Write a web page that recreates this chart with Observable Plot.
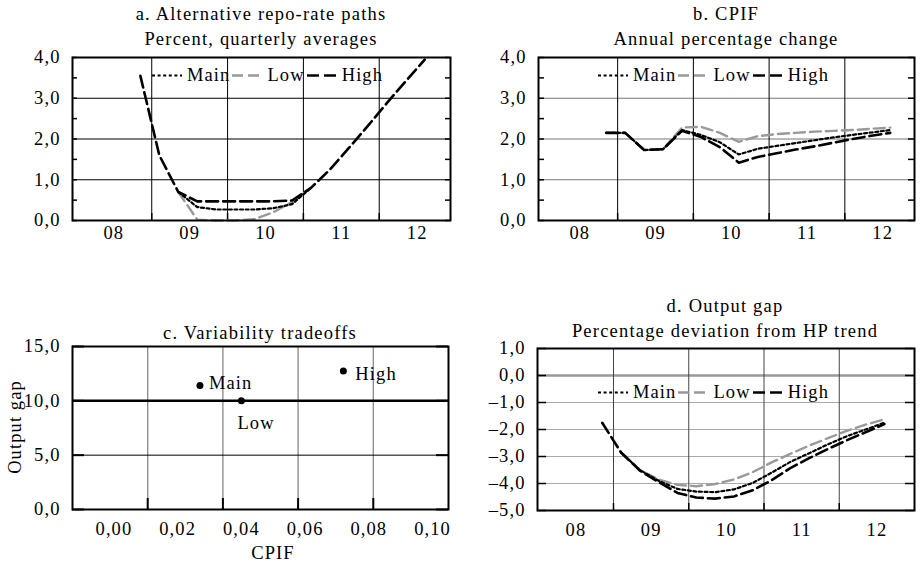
<!DOCTYPE html>
<html><head><meta charset="utf-8">
<script src="https://cdn.jsdelivr.net/npm/d3@7"></script>
<script src="https://cdn.jsdelivr.net/npm/@observablehq/plot@0.6"></script>
<style>
body{margin:0;background:#fff;}
#root{position:relative;width:922px;height:564px;font-family:"Liberation Serif",serif;color:#000;overflow:hidden;}
.title{position:absolute;text-align:center;font-size:18.5px;line-height:25px;white-space:nowrap;letter-spacing:1.2px;transform:translateX(-50%);}
.legend{position:absolute;display:flex;align-items:center;font-size:18.5px;letter-spacing:1.1px;white-space:nowrap;transform:translateY(-50%);}
.legend svg{display:block;}
.axlabel{position:absolute;font-size:18.5px;letter-spacing:1.1px;white-space:nowrap;}
</style>
</head><body><div id="root"></div>
<script>
// ---------- data ----------
const quarters = ["2008Q4","2009Q1","2009Q2","2009Q3","2009Q4","2010Q1","2010Q2","2010Q3",
                  "2010Q4","2011Q1","2011Q2","2011Q3","2011Q4","2012Q1","2012Q2","2012Q3"];
const seriesNames = ["Main","Low","High"];

// a. Alternative repo-rate paths (percent, quarterly averages)
const repoMain = [3.55,1.6,0.7,0.33,0.27,0.27,0.27,0.3,0.4,0.8,1.25,1.78,2.32,2.88,3.42,3.95];
const repoLow  = [3.55,1.6,0.7,0.02,0.0,0.0,0.03,0.2,0.45,0.8,1.25,1.78,2.32,2.88,3.42,3.95];
const repoHigh = [3.55,1.6,0.7,0.47,0.47,0.47,0.47,0.47,0.49,0.8,1.25,1.78,2.32,2.88,3.42,3.95];

// b. CPIF (annual percentage change)
const cpifMain = [2.15,2.15,1.73,1.75,2.22,2.1,1.92,1.62,1.76,1.83,1.9,1.97,2.04,2.1,2.16,2.22];
const cpifLow  = [2.15,2.15,1.73,1.75,2.28,2.3,2.15,1.93,2.07,2.12,2.15,2.18,2.2,2.22,2.25,2.28];
const cpifHigh = [2.15,2.15,1.73,1.75,2.2,2.05,1.8,1.42,1.56,1.65,1.74,1.82,1.91,2.0,2.08,2.15];

// d. Output gap (percentage deviation from HP trend)
const gapMain = [-1.75,-2.85,-3.5,-3.9,-4.2,-4.3,-4.32,-4.22,-3.98,-3.6,-3.2,-2.88,-2.55,-2.25,-2.0,-1.75];
const gapLow  = [-1.75,-2.85,-3.5,-3.85,-4.05,-4.1,-4.02,-3.85,-3.58,-3.22,-2.9,-2.6,-2.32,-2.05,-1.82,-1.62];
const gapHigh = [-1.75,-2.85,-3.52,-3.95,-4.35,-4.52,-4.56,-4.48,-4.25,-3.88,-3.43,-3.06,-2.72,-2.4,-2.1,-1.8];

// c. Variability tradeoffs
const cpifVariability = [0.027, 0.040, 0.072];
const gapVariability  = [11.4, 10.0, 12.75];

// ticks
const yearTicks = [2008, 2009, 2010, 2011, 2012];
const yearLabels = ["08","09","10","11","12"];
const yearGrid = [2009, 2010, 2011, 2012];
const ticksAB = [0,1,2,3,4];
const minorAB = [0.5,1.5,2.5,3.5];
const ticksD = [-5,-4,-3,-2,-1,0,1];
const ticksCy = [0,5,10,15];
const ticksCx = [0,0.02,0.04,0.06,0.08,0.10];

// ---------- styles ----------
const lineStyle = {
  Main: {stroke:"#000", dash:"3,2.6", width:2.2},
  Low:  {stroke:"#999", dash:"11,5", width:2.4},
  High: {stroke:"#000", dash:"12,5", width:2.6}
};
const drawOrder = ["Low","Main","High"];
const labelOffset = {Main:[9,-3], Low:[-4,22], High:[12,3]};
const FONT = {fontFamily:"Liberation Serif, serif", fontSize:"18.5px", background:"transparent", overflow:"visible", color:"#000", letterSpacing:"1.1px"};

const fmt1 = d => (d < 0 ? "–" : "") + Math.abs(d).toFixed(1).replace(".", ",");
const fmt2 = d => (d < 0 ? "–" : "") + Math.abs(d).toFixed(2).replace(".", ",");
const qTime = q => +q.slice(0,4) + (+q.slice(5) - 1) / 4 + 0.1;

const root = document.getElementById("root");
function place(el, left, top) { el.style.position = "absolute"; el.style.left = left + "px"; el.style.top = top + "px"; root.appendChild(el); }
function addDiv(cls, html, left, top) { const d = document.createElement("div"); d.className = cls; d.innerHTML = html; d.style.left = left + "px"; d.style.top = top + "px"; root.appendChild(d); return d; }

function legend(left, cy) {
  const d = document.createElement("div");
  d.className = "legend";
  d.style.left = left + "px"; d.style.top = cy + "px";
  d.innerHTML = seriesNames.map((n, i) => {
    const s = lineStyle[n];
    return `<svg width="30" height="10"><line x1="0" x2="30" y1="5" y2="5" stroke="${s.stroke}" stroke-width="${s.width}" stroke-dasharray="${s.dash}"/></svg><span style="margin-left:5px;margin-right:${i<2?2:0}px">${n}</span>`;
  }).join("");
  root.appendChild(d);
}

function timePanel(cfg) {
  const byName = {};
  seriesNames.forEach((name, i) => byName[name] = cfg.values[i]);
  const rows = [];
  seriesNames.forEach((name) => byName[name].forEach((v, j) => {
    // where a path coincides with "High" on both sides, only the High line is drawn
    let shown = v;
    if (cfg.hideCommon && name !== "High") {
      const same = k => k < 0 || k >= quarters.length || byName[name][k] === byName.High[k];
      if (same(j - 1) && same(j) && same(j + 1)) shown = NaN;
    }
    rows.push({name, t: qTime(quarters[j]), v: shown});
  }));
  const fw = cfg.width - cfg.ml - cfg.mr, fh = cfg.height - cfg.mt - cfg.mb;
  const marks = [ Plot.ruleY(cfg.yGrid, {stroke: cfg.hGrid, strokeWidth: 1}) ];
  if (cfg.zero) marks.push(Plot.ruleY([0], {stroke: "#999", strokeWidth: 2.5}));
  marks.push(
    Plot.ruleX(yearGrid, {stroke: cfg.vGrid, strokeWidth: 1}),
    Plot.ruleY(cfg.yTickMarks, {stroke: "#000", strokeWidth: 1.5, insetRight: fw - cfg.tickLen}),
    Plot.ruleY(cfg.yTickMarks, {stroke: "#000", strokeWidth: 1.5, insetLeft: fw - cfg.tickLen}),
    Plot.ruleX(yearGrid, {stroke: "#000", strokeWidth: 1.5, insetTop: fh - 7}),
    ...drawOrder.map(name => Plot.line(rows.filter(r => r.name === name), {
      x: "t", y: "v", stroke: lineStyle[name].stroke, strokeWidth: lineStyle[name].width,
      strokeDasharray: lineStyle[name].dash, curve: "linear"
    })),
    Plot.frame({stroke: "#000", strokeWidth: 2}),
    Plot.axisX({ticks: yearTicks.map(y => y + 0.5), tickFormat: d => yearLabels[yearTicks.indexOf(Math.floor(d))], tickSize: 0, tickPadding: cfg.xPad, label: null}),
    Plot.axisY({ticks: cfg.yTicks, tickFormat: fmt1, tickSize: 0, tickPadding: 12, label: null})
  );
  const svg = Plot.plot({
    width: cfg.width, height: cfg.height,
    marginLeft: cfg.ml, marginRight: cfg.mr, marginTop: cfg.mt, marginBottom: cfg.mb,
    style: FONT,
    x: {type: "linear", domain: cfg.xDomain, label: null},
    y: {domain: cfg.yDomain, label: null},
    marks
  });
  place(svg, cfg.left, cfg.top);
}

// a
timePanel({left:0, top:0, width:461, height:250, ml:72, mr:11, mt:57, mb:30, hideCommon:true,
  xDomain:[2007.955, 2012.94], yDomain:[0,4], values:[repoMain, repoLow, repoHigh],
  yGrid:[1,2,3], hGrid:"#000", vGrid:"#000", yTicks: ticksAB, yTickMarks: minorAB.concat(ticksAB), tickLen: 5, xPad: 5});
// b
timePanel({left:461, top:0, width:461, height:250, ml:77, mr:8, mt:57, mb:30, hideCommon:false,
  xDomain:[2007.955, 2012.92], yDomain:[0,4], values:[cpifMain, cpifLow, cpifHigh],
  yGrid:[1,2,3], hGrid:"#777", vGrid:"#000", yTicks: ticksAB, yTickMarks: minorAB.concat(ticksAB), tickLen: 6, xPad: 5});
// d
timePanel({left:461, top:290, width:461, height:274, ml:76, mr:8, mt:58, mb:54, hideCommon:true,
  xDomain:[2007.99, 2013.0], yDomain:[-5,1], values:[gapMain, gapLow, gapHigh],
  yGrid:[-4,-3,-2,-1], hGrid:"#aaa", vGrid:"#444", zero:true, yTicks: ticksD, yTickMarks: ticksD, tickLen: 9, xPad: 12});

// c
(function(){
  const pts = seriesNames.map((name, i) => ({name, x: cpifVariability[i], y: gapVariability[i]}));
  const xDom = [-0.013, 0.105];
  const width = 461, height = 274, ml = 72, mr = 13, mt = 56, mb = 55;
  const fw = width - ml - mr, fh = height - mt - mb;
  const cGrid = d3.range(1, 5).map(i => xDom[0] + i * (xDom[1] - xDom[0]) / 5);
  const svg = Plot.plot({
    width, height, marginLeft: ml, marginRight: mr, marginTop: mt, marginBottom: mb,
    style: FONT,
    x: {domain: xDom, label: null}, y: {domain: [0, 15], label: null},
    marks: [
      Plot.ruleX(cGrid, {stroke: "#888", strokeWidth: 1.3}),
      Plot.ruleY([5], {stroke: "#000", strokeWidth: 1}),
      Plot.ruleY([10], {stroke: "#000", strokeWidth: 2.5}),
      Plot.ruleY(ticksCy, {stroke: "#000", strokeWidth: 2, insetRight: fw - 12}),
      Plot.ruleY(ticksCy, {stroke: "#000", strokeWidth: 2, insetLeft: fw - 12}),
      Plot.ruleX(cGrid, {stroke: "#000", strokeWidth: 2, insetTop: fh - 11}),
      Plot.dot(pts, {x: "x", y: "y", r: 3.5, fill: "#000", stroke: null}),
      ...seriesNames.map(n => Plot.text(pts.filter(p => p.name === n), {x: "x", y: "y", text: "name", textAnchor: "start", dx: labelOffset[n][0], dy: labelOffset[n][1]})),
      Plot.frame({stroke: "#000", strokeWidth: 2}),
      Plot.axisX({ticks: ticksCx, tickFormat: fmt2, tickSize: 0, tickPadding: 12, label: null}),
      Plot.axisY({ticks: ticksCy, tickFormat: fmt1, tickSize: 0, tickPadding: 12, label: null})
    ]
  });
  place(svg, 0, 290);
})();

// titles
addDiv("title", "a. Alternative repo-rate paths<br>Percent, quarterly averages", 261, 2);
addDiv("title", "b. CPIF<br>Annual percentage change", 726, 2);
addDiv("title", "c. Variability tradeoffs", 260, 321);
addDiv("title", "d. Output gap<br>Percentage deviation from HP trend", 725, 294);

// legends
legend(152, 75);
legend(598, 75);
legend(598, 392);

// axis labels for c
const yl = addDiv("axlabel", "Output gap", 15, 427);
yl.style.transform = "translate(-50%,-50%) rotate(-90deg)";
const xl = addDiv("axlabel", "CPIF", 273, 553);
xl.style.transform = "translate(-50%,-50%)";
</script>
</body></html>
